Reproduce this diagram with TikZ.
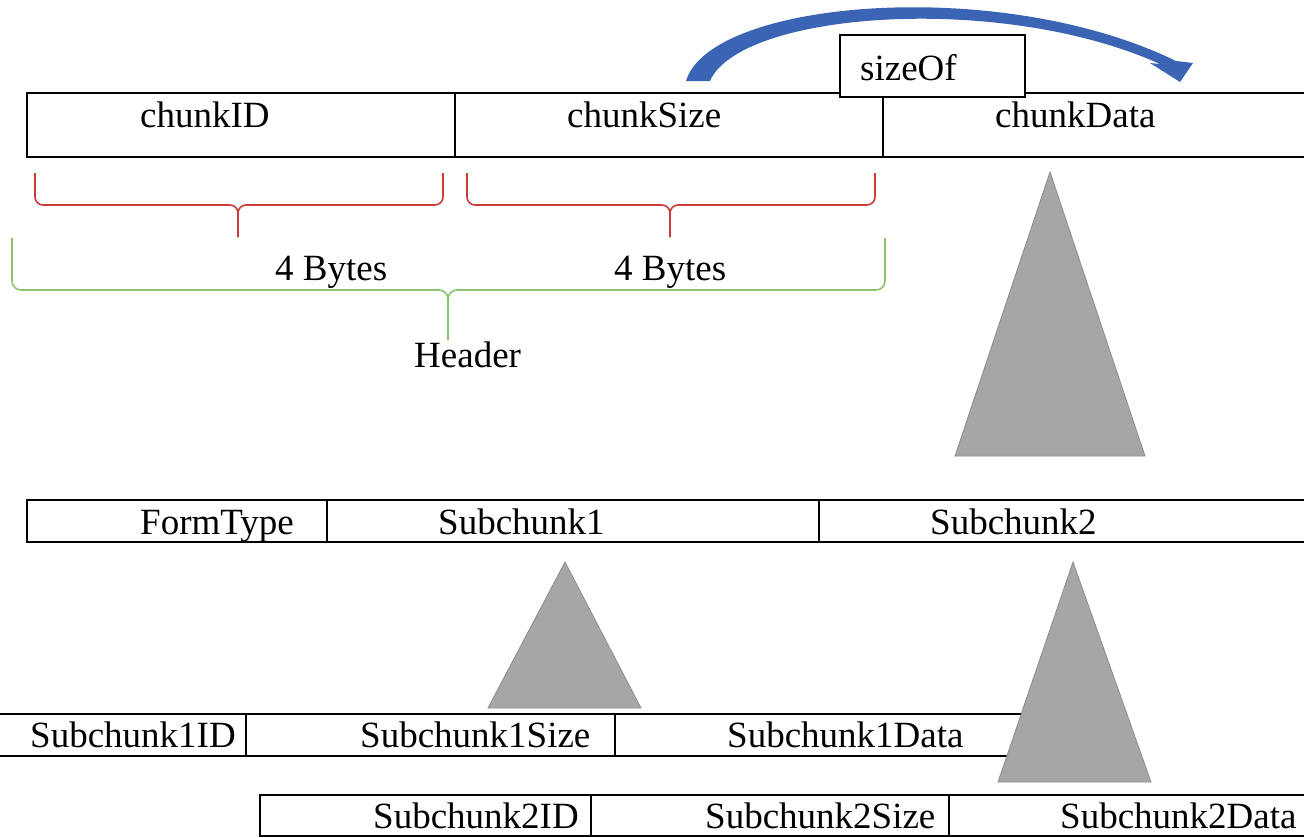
\documentclass[tikz,border=0pt]{standalone}
\usepackage{fontspec}
\setmainfont{Liberation Serif}
\newfontfamily\cellfont{Liberation Serif}
\usepackage{tikz}
\usetikzlibrary{positioning}

\definecolor{arrowblue}{RGB}{59,100,180}
\definecolor{bracered}{RGB}{205,60,60}
\definecolor{bracegreen}{RGB}{140,195,110}
\definecolor{trigray}{RGB}{166,166,166}

\begin{document}
\begin{tikzpicture}[x=1pt,y=-1pt]
  \tikzstyle{cell}=[rectangle,draw=black,line width=2pt,outer sep=0pt,inner sep=0pt]
  \tikzstyle{txt}=[anchor=base west,inner sep=0pt,font=\cellfont\fontsize{37}{44}\selectfont]
  \tikzstyle{redbrace}=[draw=bracered,line width=1.6pt,rounded corners=8pt]
  \tikzstyle{greenbrace}=[draw=bracegreen,line width=1.6pt,rounded corners=9pt]
  \tikzstyle{tri}=[fill=trigray,draw=trigray!85!black,line width=0.8pt]
  \useasboundingbox (0,0) rectangle (1304,838);
  \clip (0,0) rectangle (1304,838);

  % chunk
  \node[cell,minimum width=428pt,minimum height=64pt] (chunkid) at (241,125) {};
  \node[cell,minimum width=428pt,minimum height=64pt,right=0pt of chunkid] (chunksize) {};
  \node[cell,minimum width=440pt,minimum height=64pt,right=0pt of chunksize] (chunkdata) {};
  \node[txt] (tchunkid) at (140,127) {chunkID};
  \node[txt] (tchunksize) at (567,127) {chunkSize};
  \node[txt] (tchunkdata) at (995,127) {chunkData};

  \fill[arrowblue] (686,81) .. controls (710,0) and (1000,-25) .. (1176,61)
    -- (1193,63) -- (1180,82) -- (1150,63) -- (1160,64)
    .. controls (1000,-8) and (740,12) .. (710,81) -- cycle;
  \node[cell,fill=white,minimum width=185pt,minimum height=62pt] (sizeof) at (932.5,66) {};
  \node[txt] (tsizeof) at (860,80) {sizeOf};

  % braces
  \draw[redbrace] (35,173) |- (238,205) -- (238,237);
  \draw[redbrace] (443,173) |- (238,205) -- (238,237);
  \draw[redbrace] (467,173) |- (670,205) -- (670,237);
  \draw[redbrace] (875,173) |- (670,205) -- (670,237);
  \draw[greenbrace] (12,238) |- (448,290) -- (448,340);
  \draw[greenbrace] (885,238) |- (448,290) -- (448,340);
  \node[txt] (bytesa) at (275,280) {4 Bytes};
  \node[txt] (bytesb) at (614,280) {4 Bytes};
  \node[txt] (header) at (414,367) {Header};

  \draw[tri] (1050,172) -- (1145,456) -- (955,456) -- cycle;

  % form
  \node[cell,minimum width=300pt,minimum height=42pt] (formtype) at (177,521) {};
  \node[cell,minimum width=492pt,minimum height=42pt,right=0pt of formtype] (subone) {};
  \node[cell,minimum width=500pt,minimum height=42pt,right=0pt of subone] (subtwo) {};
  \node[txt] (tformtype) at (140,534) {FormType};
  \node[txt] (tsubone) at (438,534) {Subchunk1};
  \node[txt] (tsubtwo) at (930,534) {Subchunk2};

  % subchunk1
  \node[cell,minimum width=256pt,minimum height=42pt] (sonid) at (118,735) {};
  \node[cell,minimum width=369pt,minimum height=42pt,right=0pt of sonid] (sonsize) {};
  \node[cell,minimum width=425pt,minimum height=42pt,right=0pt of sonsize] (sondata) {};
  \node[txt] (tsonid) at (30,747) {Subchunk1ID};
  \node[txt] (tsonsize) at (360,747) {Subchunk1Size};
  \node[txt] (tsondata) at (727,747) {Subchunk1Data};

  \draw[tri] (565,562) -- (641,708) -- (488,708) -- cycle;
  \draw[tri] (1073,562) -- (1151,782) -- (998,782) -- cycle;

  % subchunk2
  \node[cell,minimum width=331pt,minimum height=41pt] (stwid) at (425.5,815.5) {};
  \node[cell,minimum width=358pt,minimum height=41pt,right=0pt of stwid] (stwsize) {};
  \node[cell,minimum width=380pt,minimum height=41pt,right=0pt of stwsize] (stwdata) {};
  \node[txt] (tstwid) at (373,828) {Subchunk2ID};
  \node[txt] (tstwsize) at (705,828) {Subchunk2Size};
  \node[txt] (tstwdata) at (1060,828) {Subchunk2Data};
\end{tikzpicture}
\end{document}
